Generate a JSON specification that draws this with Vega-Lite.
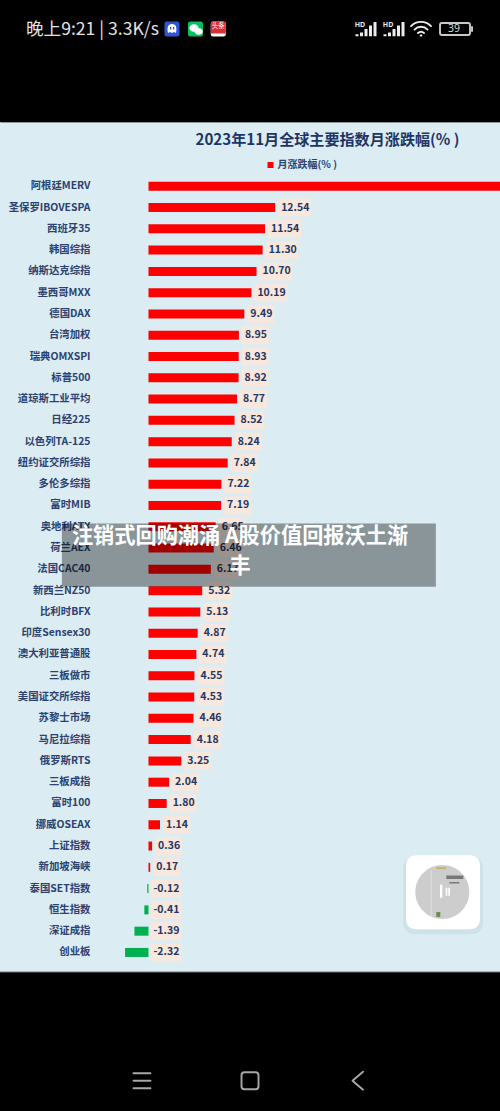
{
"$schema":"https://vega.github.io/schema/vega-lite/v6.json",
"width":500,"height":850,
"autosize":{"type":"none"},
"padding":{"left":0,"top":122,"right":0,"bottom":139},
"background":"#000000",
"view":{"fill":"#dbecf3","stroke":null},
"title":{"text":"晚上9:21 | 3.3K/s","anchor":"start","frame":"group","offset":-27.5,"dx":26,"baseline":"middle","font":"Noto Sans CJK SC","fontSize":17.6,"fontWeight":"normal","color":"#e4e4e4"},
"datasets":{
"rows":[
{"name":"阿根廷MERV","value":36,"series":"月涨跌幅(% )"},
{"name":"圣保罗IBOVESPA","value":12.54,"series":"月涨跌幅(% )"},
{"name":"西班牙35","value":11.54,"series":"月涨跌幅(% )"},
{"name":"韩国综指","value":11.30,"series":"月涨跌幅(% )"},
{"name":"纳斯达克综指","value":10.70,"series":"月涨跌幅(% )"},
{"name":"墨西哥MXX","value":10.19,"series":"月涨跌幅(% )"},
{"name":"德国DAX","value":9.49,"series":"月涨跌幅(% )"},
{"name":"台湾加权","value":8.95,"series":"月涨跌幅(% )"},
{"name":"瑞典OMXSPI","value":8.93,"series":"月涨跌幅(% )"},
{"name":"标普500","value":8.92,"series":"月涨跌幅(% )"},
{"name":"道琼斯工业平均","value":8.77,"series":"月涨跌幅(% )"},
{"name":"日经225","value":8.52,"series":"月涨跌幅(% )"},
{"name":"以色列TA-125","value":8.24,"series":"月涨跌幅(% )"},
{"name":"纽约证交所综指","value":7.84,"series":"月涨跌幅(% )"},
{"name":"多伦多综指","value":7.22,"series":"月涨跌幅(% )"},
{"name":"富时MIB","value":7.19,"series":"月涨跌幅(% )"},
{"name":"奥地利ATX","value":6.65,"series":"月涨跌幅(% )"},
{"name":"荷兰AEX","value":6.46,"series":"月涨跌幅(% )"},
{"name":"法国CAC40","value":6.17,"series":"月涨跌幅(% )"},
{"name":"新西兰NZ50","value":5.32,"series":"月涨跌幅(% )"},
{"name":"比利时BFX","value":5.13,"series":"月涨跌幅(% )"},
{"name":"印度Sensex30","value":4.87,"series":"月涨跌幅(% )"},
{"name":"澳大利亚普通股","value":4.74,"series":"月涨跌幅(% )"},
{"name":"三板做市","value":4.55,"series":"月涨跌幅(% )"},
{"name":"美国证交所综指","value":4.53,"series":"月涨跌幅(% )"},
{"name":"苏黎士市场","value":4.46,"series":"月涨跌幅(% )"},
{"name":"马尼拉综指","value":4.18,"series":"月涨跌幅(% )"},
{"name":"俄罗斯RTS","value":3.25,"series":"月涨跌幅(% )"},
{"name":"三板成指","value":2.04,"series":"月涨跌幅(% )"},
{"name":"富时100","value":1.80,"series":"月涨跌幅(% )"},
{"name":"挪威OSEAX","value":1.14,"series":"月涨跌幅(% )"},
{"name":"上证指数","value":0.36,"series":"月涨跌幅(% )"},
{"name":"新加坡海峡","value":0.17,"series":"月涨跌幅(% )"},
{"name":"泰国SET指数","value":-0.12,"label":"-0.12","series":"下跌"},
{"name":"恒生指数","value":-0.41,"label":"-0.41","series":"下跌"},
{"name":"深证成指","value":-1.39,"label":"-1.39","series":"下跌"},
{"name":"创业板","value":-2.32,"label":"-2.32","series":"下跌"}
],
"icons":[
{"item":"qq","x":2.327,"row":-6.839},
{"item":"qqface","x":2.327,"row":-6.839},
{"item":"qqeyes","x":2.327,"row":-6.839},
{"item":"wechat","x":4.653,"row":-6.839},
{"item":"bubbles","x":4.653,"row":-6.839},
{"item":"toutiaobase","x":6.911,"row":-6.839},
{"item":"toutiaotop","x":6.911,"row":-6.839},
{"item":"signal","x":21.535,"row":-6.839},
{"item":"signal","x":24.307,"row":-6.839},
{"item":"cardshadow","x":29.158,"row":33.72},
{"item":"card","x":29.158,"row":33.72},
{"item":"disc","x":29.089,"row":33.71},
{"item":"discline","x":29.089,"row":33.71},
{"item":"discwhite","x":29.089,"row":33.71},
{"item":"disctitle","x":29.089,"row":33.71},
{"item":"disctan","x":29.089,"row":33.71},
{"item":"discgreen","x":29.089,"row":33.71}
],
"strokes":[
{"item":"wifi","x":26.98,"row":-6.839},
{"item":"battery","x":30.347,"row":-6.839},
{"item":"menu","x":-0.644,"row":42.574},
{"item":"home","x":10.05,"row":42.574},
{"item":"back","x":20.743,"row":42.574}
],
"texts":[
{"kind":"hd","label":"HD","x":20.94,"row":-7.05},
{"kind":"hd","label":"HD","x":23.713,"row":-7.05},
{"kind":"battery","label":"39","x":30.25,"row":-6.839},
{"kind":"toutiao","label":"头条","x":6.911,"row":-7.0},
{"kind":"banner","label":"注销式回购潮涌 A股价值回报沃土渐","x":9.06,"row":17.02},
{"kind":"banner","label":"丰","x":9.06,"row":18.43}
]
},
"encoding":{
"x":{"field":"value","type":"quantitative",
"scale":{"domain":[-14.7,34.8],"range":[0,500],"nice":false,"zero":false},
"axis":null}
},
"layer":[
{"data":{"values":[{"from":0.1,"to":36.9}]},
 "mark":{"type":"rule","color":"#c6d2d8","strokeWidth":1},
 "encoding":{"x":{"datum":0,"type":"quantitative",
   "axis":{"orient":"top","labels":false,"ticks":false,"grid":false,"domain":true,"domainColor":"#8d9497","domainWidth":1,
   "title":"2023年11月全球主要指数月涨跌幅(% )","titleFont":"Noto Sans CJK SC","titleFontSize":15.1,"titleFontWeight":"bold","titleColor":"#1d3566","titleX":327,"titleY":17,"titleBaseline":"middle","titleAlign":"center"}},
  "y":{"field":"from","type":"quantitative","axis":null,"scale":{"domain":[0,37],"range":[52.6,840.1],"nice":false,"zero":false}},
  "y2":{"field":"to"}}},
{"data":{"name":"rows"},
 "encoding":{"y":{"field":"name","type":"nominal","sort":null,
   "scale":{"type":"band","domain":["阿根廷MERV","圣保罗IBOVESPA","西班牙35","韩国综指","纳斯达克综指","墨西哥MXX","德国DAX","台湾加权","瑞典OMXSPI","标普500","道琼斯工业平均","日经225","以色列TA-125","纽约证交所综指","多伦多综指","富时MIB","奥地利ATX","荷兰AEX","法国CAC40","新西兰NZ50","比利时BFX","印度Sensex30","澳大利亚普通股","三板做市","美国证交所综指","苏黎士市场","马尼拉综指","俄罗斯RTS","三板成指","富时100","挪威OSEAX","上证指数","新加坡海峡","泰国SET指数","恒生指数","深证成指","创业板"],"range":[53.6,841.1],"paddingInner":0,"paddingOuter":0},
   "axis":{"title":null,"orient":"left","offset":-90,"domain":false,"ticks":false,"grid":false,"labelPadding":0,"labelFont":"Noto Sans CJK SC","labelFontSize":10.4,"labelFontWeight":"bold","labelColor":"#2b4170","labelOverlap":false}}},
 "layer":[
  {"transform":[{"filter":"datum.value>=10 && datum.value<30"}],"mark":{"type":"point","filled":true,"opacity":1,"strokeWidth":0,"size":4,"color":"#f8e7dc","shape":"M3,-9H36V9H3Z"}},
  {"transform":[{"filter":"datum.value>=0 && datum.value<10"}],"mark":{"type":"point","filled":true,"opacity":1,"strokeWidth":0,"size":4,"color":"#f8e7dc","shape":"M3,-9H30V9H3Z"}},
  {"transform":[{"filter":"datum.value<0"}],"mark":{"type":"point","filled":true,"opacity":1,"strokeWidth":0,"size":4,"color":"#f8e7dc","shape":"M2,-9H33V9H2Z"},"encoding":{"x":{"datum":0,"type":"quantitative","axis":null}}},
  {"mark":{"type":"bar","size":9},
   "encoding":{"x2":{"datum":0},
    "color":{"field":"series","type":"nominal","scale":{"domain":["月涨跌幅(% )","下跌"],"range":["#ff0000","#00b050"]},
     "legend":{"values":["月涨跌幅(% )"],"orient":"none","legendX":265.5,"legendY":38,"title":null,"symbolType":"square","symbolSize":36,"symbolStrokeWidth":0,"labelFont":"Noto Sans CJK SC","labelFontSize":10,"labelFontWeight":"bold","labelColor":"#2b4170","labelOffset":2,"padding":0}}}},
  {"transform":[{"filter":"datum.value>=0 && datum.value<30"}],"mark":{"type":"text","align":"left","baseline":"middle","dx":6,"font":"Noto Sans CJK SC","fontSize":10.5,"fontWeight":"bold","color":"#1f3864"},
   "encoding":{"text":{"field":"value","type":"quantitative","format":".2f"}}},
  {"transform":[{"filter":"datum.value<0"}],"mark":{"type":"text","align":"left","baseline":"middle","dx":5,"font":"Noto Sans CJK SC","fontSize":10.5,"fontWeight":"bold","color":"#1f3864"},
   "encoding":{"x":{"datum":0,"type":"quantitative","axis":null},"text":{"field":"label","type":"nominal"}}}
 ],
 "resolve":{"axis":{"x":"independent"}}
},
{"encoding":{
  "x":{"field":"x","type":"quantitative","axis":null},
  "y":{"field":"row","type":"quantitative","axis":null,"scale":{"domain":[0,37],"range":[52.6,840.1],"nice":false,"zero":false}}},
 "layer":[
  {"data":{"values":[{"x0":-14.7,"x1":34.8,"row":37.46}]},"mark":{"type":"rule","color":"#8d9497","strokeWidth":1},
   "encoding":{"x":{"field":"x0","type":"quantitative","axis":null},"x2":{"field":"x1"}}},
  {"data":{"values":[{"x0":-8.57,"x1":28.45,"row":16.397,"row2":19.37}]},"mark":{"type":"rect","color":"#000000","opacity":0.37},
   "encoding":{"x":{"field":"x0","type":"quantitative","axis":null},"x2":{"field":"x1"},"y2":{"field":"row2"}}},
  {"data":{"name":"icons"},"mark":{"type":"point","filled":true,"opacity":1,"strokeWidth":0,"size":4},
   "encoding":{
    "shape":{"field":"item","type":"nominal","legend":null,"sort":null,"scale":{
      "domain":["qq","qqface","qqeyes","wechat","bubbles","toutiaobase","toutiaotop","signal","cardshadow","card","disc","discline","discwhite","disctitle","disctan","discgreen"],
      "range":[
       "M-5,-7.5H5Q7.5,-7.5 7.5,-5V5Q7.5,7.5 5,7.5H-5Q-7.5,7.5 -7.5,5V-5Q-7.5,-7.5 -5,-7.5Z",
       "M-4,4C-5,-1 -4.5,-5 0,-5C4.5,-5 5,-1 4,4L2,3L0,4L-2,3Z",
       "M-2,-2h1.3v2.5h-1.3zM1,-2h1.3v2.5h-1.3z",
       "M-5,-7.5H5Q7.5,-7.5 7.5,-5V5Q7.5,7.5 5,7.5H-5Q-7.5,7.5 -7.5,5V-5Q-7.5,-7.5 -5,-7.5Z",
       "M-6,-1a4.5,3.8 0 1 0 9,0a4.5,3.8 0 1 0 -9,0ZM-1,2.5a4.2,3.2 0 1 0 8.4,0a4.2,3.2 0 1 0 -8.4,0Z",
       "M-5,-7.5H5Q7.5,-7.5 7.5,-5V5Q7.5,7.5 5,7.5H-5Q-7.5,7.5 -7.5,5V-5Q-7.5,-7.5 -5,-7.5Z",
       "M-7.5,-5Q-7.5,-7.5 -5,-7.5H5Q7.5,-7.5 7.5,-5V4.5H-7.5Z",
       "M-10.5,5.2h3v2h-3zM-6,3.5h3v3.7h-3zM-1.5,0h3v7.2h-3zM3,-3.5h3v10.7h-3zM7.5,-7h3v14.2h-3z",
       "M-27,-36H27Q40,-36 40,-23V29Q40,42 27,42H-27Q-40,42 -40,29V-23Q-40,-36 -27,-36Z",
       "M-26,-37H26Q37,-37 37,-26V26Q37,37 26,37H-26Q-37,37 -37,26V-26Q-37,-37 -26,-37Z",
       "M-27,0A27,27 0 1 1 27,0A27,27 0 1 1 -27,0Z",
       "M-11.6,-22h.9v46h-.9z",
       "M-2.3,-7.3h2.3v13h-2.3zM3.4,-4.3h1.6v8h-1.6zM6,-4.3h1.6v8h-1.6z",
       "M4,-16.5h17v3.5h-17zM7,-10h10v1.5h-10z",
       "M-6,-25h10v2h-10z",
       "M-6,20h4v5h-4z"]}},
    "fill":{"field":"item","type":"nominal","legend":null,"sort":null,"scale":{
      "domain":["qq","qqface","qqeyes","wechat","bubbles","toutiaobase","toutiaotop","signal","cardshadow","card","disc","discline","discwhite","disctitle","disctan","discgreen"],
      "range":["#2f55d4","#ffffff","#2f55d4","#07c160","#ffffff","#ffffff","#d9302f","#ececec","#d0e2e9","#ffffff","#cdcdcd","#e2e2e2","#ffffff","#777777","#c9b36a","#6d8b4f"]}}}},
  {"data":{"name":"strokes"},"mark":{"type":"point","filled":false,"opacity":1,"size":4,"strokeWidth":1.9,"strokeCap":"round","strokeJoin":"round"},
   "encoding":{
    "shape":{"field":"item","type":"nominal","legend":null,"sort":null,"scale":{
      "domain":["wifi","battery","menu","home","back"],
      "range":[
       "M-10,-3A14,14 0 0 1 10,-3M-6.5,0.5A9,9 0 0 1 6.5,0.5M-3,4A4.5,4.5 0 0 1 3,4M-0.4,6.4h.8",
       "M-13,-6H13Q15,-6 15,-4V4Q15,6 13,6H-13Q-15,6 -15,4V-4Q-15,-6 -13,-6ZM17,-2V2",
       "M-8.5,-7.5H8.5M-8.5,0H8.5M-8.5,7.5H8.5",
       "M-5.5,-8.5H5.5Q8.5,-8.5 8.5,-5.5V5.5Q8.5,8.5 5.5,8.5H-5.5Q-8.5,8.5 -8.5,5.5V-5.5Q-8.5,-8.5 -5.5,-8.5Z",
       "M5,-9L-5.5,0L5,9"]}},
    "stroke":{"field":"item","type":"nominal","legend":null,"sort":null,"scale":{
      "domain":["wifi","battery","menu","home","back"],
      "range":["#ececec","#c9c9c9","#a8a8a8","#a8a8a8","#a8a8a8"]}}}},
  {"data":{"name":"texts"},"transform":[{"filter":"datum.kind==='hd'"}],"mark":{"type":"text","font":"Noto Sans","fontWeight":"bold","fontSize":7,"color":"#e8e8e8","align":"center","baseline":"middle"},"encoding":{"text":{"field":"label"}}},
  {"data":{"name":"texts"},"transform":[{"filter":"datum.kind==='battery'"}],"mark":{"type":"text","font":"Noto Sans","fontSize":10.5,"color":"#d8d8d8","align":"center","baseline":"middle"},"encoding":{"text":{"field":"label"}}},
  {"data":{"name":"texts"},"transform":[{"filter":"datum.kind==='toutiao'"}],"mark":{"type":"text","font":"Noto Sans CJK SC","fontSize":6.5,"color":"#ffffff","align":"center","baseline":"middle"},"encoding":{"text":{"field":"label"}}},
  {"data":{"name":"texts"},"transform":[{"filter":"datum.kind==='banner'"}],"mark":{"type":"text","font":"Noto Sans CJK SC","fontWeight":"bold","fontSize":21.2,"color":"#ffffff","align":"center","baseline":"middle"},"encoding":{"text":{"field":"label"}}}
 ],
 "resolve":{"scale":{"shape":"independent","fill":"independent","stroke":"independent"},"axis":{"x":"independent"}}
}
],
"resolve":{"scale":{"y":"independent"},"axis":{"x":"independent"}}
}
